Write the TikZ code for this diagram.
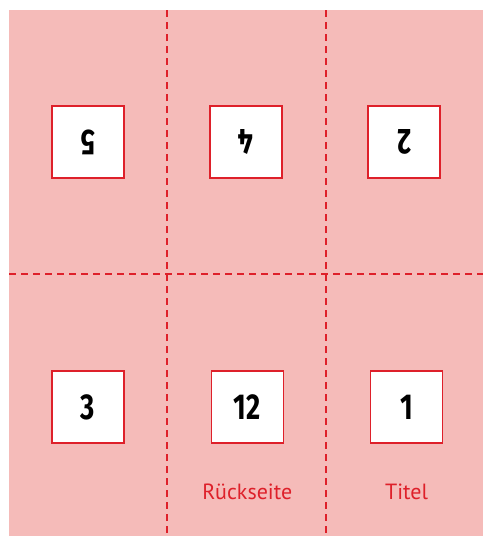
\documentclass[tikz,border=0pt]{standalone}
\usepackage{fontspec}
\setmainfont{PT Sans}
\newfontfamily\numfont[FakeStretch=0.76]{Fira Sans}
\usetikzlibrary{positioning}
\definecolor{falzrot}{RGB}{222,32,42}
\definecolor{falzrosa}{RGB}{245,187,185}

\begin{document}
\begin{tikzpicture}[
x=1pt, y=-1pt,
node distance=86pt,
panel/.style={draw=falzrot, line width=1.3pt, fill=white, minimum size=72pt, inner sep=0pt, font=\numfont\bfseries\fontsize{36}{36}\selectfont},
flipped/.style={panel, rotate=180},
falz/.style={draw=falzrot, line width=2.5pt, dash pattern=on 7pt off 5pt},
caption/.style={text=falzrot, font=\fontsize{22}{24}\selectfont}
]

\useasboundingbox (0,0) rectangle (483,536);
\fill[falzrosa] (9,10) rectangle (483,536);

% folding lines
\coordinate (v1top) at (167,10);
\coordinate (v1bot) at (167,536);
\coordinate (v2top) at (326,10);
\coordinate (v2bot) at (326,536);
\coordinate (hleft) at (9,274);
\coordinate (hright) at (483,274);
\draw[falz] (v1top) -- (v1bot);
\draw[falz] (v2top) -- (v2bot);
\draw[falz] (hleft) -- (hright);

% top row, upside down
\node (p5) [flipped] at (88,142) {5};
\node (p4) [flipped] at (246,142) {4};
\node (p2) [flipped] at (404,142) {2};

% bottom row
\node (p3) [panel] at (88,407) {3};
\node (p12) [panel, right=of p3] {12};
\node (p1) [panel, right=of p12] {1};

\node (back) [caption, below=37pt of p12] {Rückseite};
\node (title) [caption, below=37pt of p1] {Titel};

\end{tikzpicture}
\end{document}
